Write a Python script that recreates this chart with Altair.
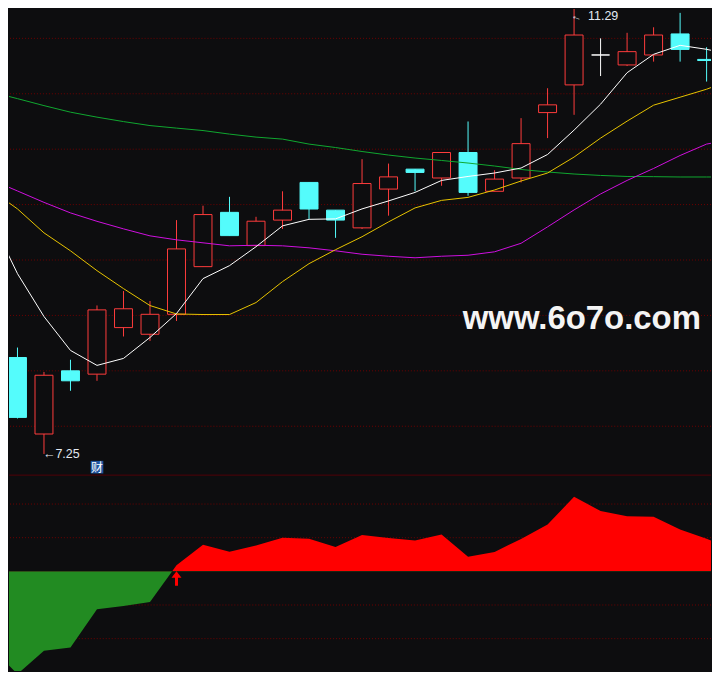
import altair as alt
import pandas as pd

# ---------------- data ----------------
candle_index = list(range(27))
opens  = [8.12, 7.43, 8.00, 7.97, 8.39, 8.33, 8.51, 8.94, 9.43, 9.13, 9.36, 9.70, 9.45, 9.29,
          9.64, 9.82, 9.74, 9.97, 9.62, 9.74, 10.33, 10.58, 10.85, 10.76, 10.85, 11.04, 10.81]
closes = [7.58, 7.96, 7.91, 8.55, 8.56, 8.51, 9.10, 9.41, 9.22, 9.35, 9.45, 9.46, 9.36, 9.69,
          9.75, 9.79, 9.97, 9.61, 9.73, 10.05, 10.40, 11.03, 10.85, 10.88, 11.03, 10.90, 10.80]
highs  = [8.21, 7.99, 8.10, 8.59, 8.72, 8.63, 9.36, 9.49, 9.57, 9.39, 9.62, 9.70, 9.45, 9.91,
          9.87, 9.82, 9.97, 10.25, 9.81, 10.28, 10.55, 11.29, 11.00, 11.05, 11.10, 11.23, 10.92]
lows   = [7.57, 7.25, 7.82, 7.91, 8.31, 8.27, 8.45, 8.94, 9.22, 9.13, 9.28, 9.37, 9.20, 9.28,
          9.40, 9.62, 9.67, 9.58, 9.62, 9.70, 10.10, 10.31, 10.66, 10.75, 10.79, 10.79, 10.61]

line_index = list(range(-1, 28))
ma5  = [9.371, 8.877, 8.490, 8.184, 8.049, 8.112, 8.301, 8.517, 8.832, 8.949, 9.120, 9.308,
        9.367, 9.371, 9.461, 9.533, 9.610, 9.718, 9.754, 9.785, 9.830, 9.952, 10.172, 10.406,
        10.690, 10.856, 10.937, 10.901, 10.850]
ma10 = [9.632, 9.461, 9.245, 9.083, 8.904, 8.742, 8.589, 8.513, 8.508, 8.508, 8.616, 8.805,
        8.967, 9.093, 9.210, 9.344, 9.470, 9.538, 9.565, 9.632, 9.713, 9.785, 9.929, 10.100,
        10.253, 10.397, 10.469, 10.541, 10.631]
ma30 = [9.725, 9.623, 9.520, 9.425, 9.349, 9.281, 9.218, 9.182, 9.155, 9.128, 9.133, 9.128,
        9.110, 9.083, 9.052, 9.034, 9.020, 9.034, 9.043, 9.074, 9.151, 9.299, 9.452, 9.596,
        9.718, 9.826, 9.943, 10.046, 10.090]
ma60 = [10.517, 10.456, 10.393, 10.334, 10.289, 10.249, 10.213, 10.190, 10.168, 10.136,
        10.109, 10.091, 10.046, 10.015, 9.979, 9.947, 9.920, 9.898, 9.875, 9.848, 9.817,
        9.794, 9.776, 9.763, 9.754, 9.752, 9.749, 9.749, 9.749]

osc = [-2.252, -3.052, -2.361, -2.261, -1.126, -1.028, -0.910, 0.180, 0.791, 0.584, 0.770,
       1.000, 0.969, 0.720, 1.081, 0.993, 0.919, 1.096, 0.436, 0.578, 0.963, 1.393, 2.213,
       1.793, 1.639, 1.621, 1.244, 0.966, 0.676]

price_grid = [11.0, 10.5, 10.0, 9.5, 9.0, 8.5, 8.0, 7.5]
osc_grid_up = [1, 2]
osc_grid_down = [-1, -2]

buy_signal_index = [6]
event_index = [3]
event_label = ["财"]
watermark = ["www.6o7o.com"]

# ---------------- style ----------------
BG = "#0d0d0f"
RED = "#ff3c3c"
CYAN = "#54fcfc"
WHITE = "#ffffff"
GRID = "#6e0000"
SEP = "#500008"
MA_COLORS = {"MA5": "#ffffff", "MA10": "#e8c400", "MA30": "#d010e0", "MA60": "#10a830"}

W = 704
H_MAIN = 467
H_POS = 97
H_NEG = 100
UNIT = 33.75

x_scale = alt.Scale(domain=[-0.3198, 26.166], nice=False, zero=False, padding=0)
y_main = alt.Scale(domain=[7.0635, 11.2654], nice=False, zero=False)
y_pos = alt.Scale(domain=[0, H_POS / UNIT], nice=False, zero=False)
y_neg = alt.Scale(domain=[-H_NEG / UNIT, 0], nice=False, zero=False)

X = alt.X("i:Q", scale=x_scale, axis=None)

candles = pd.DataFrame({"i": candle_index, "open": opens, "high": highs,
                        "low": lows, "close": closes})
dir_expr = "datum.close > datum.open ? 'up' : (datum.close < datum.open ? 'down' : 'flat')"
base = alt.Chart(candles).transform_calculate(dir=dir_expr)
dir_dom = ["up", "down", "flat"]
stroke_scale = alt.Scale(domain=dir_dom, range=[RED, CYAN, WHITE])
fill_scale = alt.Scale(domain=dir_dom, range=[BG, CYAN, WHITE])

grid = alt.Chart(pd.DataFrame({"p": price_grid})).mark_rule(
    color=GRID, strokeWidth=1, strokeDash=[1, 2]
).encode(y=alt.Y("p:Q", scale=y_main, axis=None))

wicks = base.mark_rule(strokeWidth=1, clip=True).encode(
    x=X,
    y=alt.Y("low:Q", scale=y_main, axis=None),
    y2="high:Q",
    stroke=alt.Stroke("dir:N", scale=stroke_scale, legend=None),
)

bodies = base.mark_bar(size=18, strokeWidth=1, clip=True).encode(
    x=X,
    y=alt.Y("open:Q", scale=y_main, axis=None),
    y2="close:Q",
    fill=alt.Fill("dir:N", scale=fill_scale, legend=None),
    stroke=alt.Stroke("dir:N", scale=stroke_scale, legend=None),
)

line_layers = []
for name, vals in [("MA60", ma60), ("MA30", ma30), ("MA10", ma10), ("MA5", ma5)]:
    df = pd.DataFrame({"i": line_index, "v": vals})
    line_layers.append(
        alt.Chart(df).mark_line(color=MA_COLORS[name], strokeWidth=1, clip=True).encode(
            x=X, y=alt.Y("v:Q", scale=y_main, axis=None)
        )
    )

hi_i = highs.index(max(highs))
lo_i = lows.index(min(lows))
hi_df = pd.DataFrame({"i": [hi_i], "p": [highs[hi_i]], "t": [f"{highs[hi_i]:.2f}"]})
lo_df = pd.DataFrame({"i": [lo_i], "p": [lows[lo_i]], "t": [f"←{lows[lo_i]:.2f}"]})

LABEL_FONT = "Liberation Sans"
LABEL_COLOR = "#e4eaf2"
hi_text = alt.Chart(hi_df).mark_text(
    align="left", baseline="middle", dx=14, dy=9.5, font=LABEL_FONT, fontSize=12.5,
    color=LABEL_COLOR
).encode(x=X, y=alt.Y("p:Q", scale=y_main, axis=None), text="t:N")
hi_arrow = alt.Chart(hi_df).mark_text(
    align="center", baseline="middle", dx=6.5, dy=9, angle=22, font=LABEL_FONT,
    fontSize=11, color=LABEL_COLOR, text="←"
).encode(x=X, y=alt.Y("p:Q", scale=y_main, axis=None))
lo_text = alt.Chart(lo_df).mark_text(
    align="left", baseline="middle", dx=-1, dy=0, font=LABEL_FONT, fontSize=12.5,
    color=LABEL_COLOR
).encode(x=X, y=alt.Y("p:Q", scale=y_main, axis=None), text="t:N")

ev_df = pd.DataFrame({"i": event_index, "t": event_label})
ev_box = alt.Chart(ev_df).mark_square(
    size=160, color="#1f55a0", opacity=1, filled=True
).encode(x=X, y=alt.value(459.5))
ev_text = alt.Chart(ev_df).mark_text(
    align="center", baseline="middle", font="Noto Sans CJK SC", fontSize=12, color="#ffffff",
    dy=0.5
).encode(x=X, y=alt.value(459.5), text="t:N")

wm = alt.Chart(pd.DataFrame({"t": watermark})).mark_text(
    align="left", baseline="alphabetic", font="Liberation Sans", fontWeight="bold",
    fontSize=33, color="#f4f4f4"
).encode(x=alt.value(455), y=alt.value(321), text="t:N")

main = alt.layer(grid, wicks, bodies, *line_layers, hi_arrow, hi_text, lo_text,
                 ev_box, ev_text, wm).properties(width=W, height=H_MAIN)

osc_df = pd.DataFrame({"i": line_index, "v": osc})
osc_base = alt.Chart(osc_df).transform_calculate(zero="0")

sep = alt.Chart(pd.DataFrame({"k": [0]})).mark_rule(color=SEP, strokeWidth=1).encode(
    x=alt.value(0), x2=alt.value(W), y=alt.value(0.5))
grid_up = alt.Chart(pd.DataFrame({"g": osc_grid_up})).mark_rule(
    color=GRID, strokeWidth=1, strokeDash=[1, 2]
).encode(y=alt.Y("g:Q", scale=y_pos, axis=None))
area_up = osc_base.mark_area(color="#ff0000", clip=True, interpolate="linear").encode(
    x=X, y=alt.Y("v:Q", scale=y_pos, axis=None), y2="zero:Q")
pos_panel = alt.layer(grid_up, area_up, sep).properties(width=W, height=H_POS)

grid_down = alt.Chart(pd.DataFrame({"g": osc_grid_down})).mark_rule(
    color=GRID, strokeWidth=1, strokeDash=[1, 2]
).encode(y=alt.Y("g:Q", scale=y_neg, axis=None))
area_down = osc_base.mark_area(color="#228b22", clip=True, interpolate="linear").encode(
    x=X, y=alt.Y("v:Q", scale=y_neg, axis=None), y2="zero:Q")
sig_df = pd.DataFrame({"i": buy_signal_index})
ARROW_PATH = "M-1,-0.1L0,-1.4L1,-0.1L0.3,-0.1L0.3,1.5L-0.3,1.5L-0.3,-0.1Z"
arrow = alt.Chart(sig_df).mark_point(
    shape=ARROW_PATH, size=100, filled=True, color="#ff0000", opacity=1, strokeWidth=0
).encode(x=X, y=alt.value(7))
neg_panel = alt.layer(grid_down, area_down, arrow).properties(width=W, height=H_NEG)

chart = alt.vconcat(main, pos_panel, neg_panel, spacing=0).resolve_scale(
    y="independent"
).properties(padding=0).configure(background=BG).configure_view(stroke=None)

chart.save("out.html", embed_options={"renderer": "svg", "actions": False})
